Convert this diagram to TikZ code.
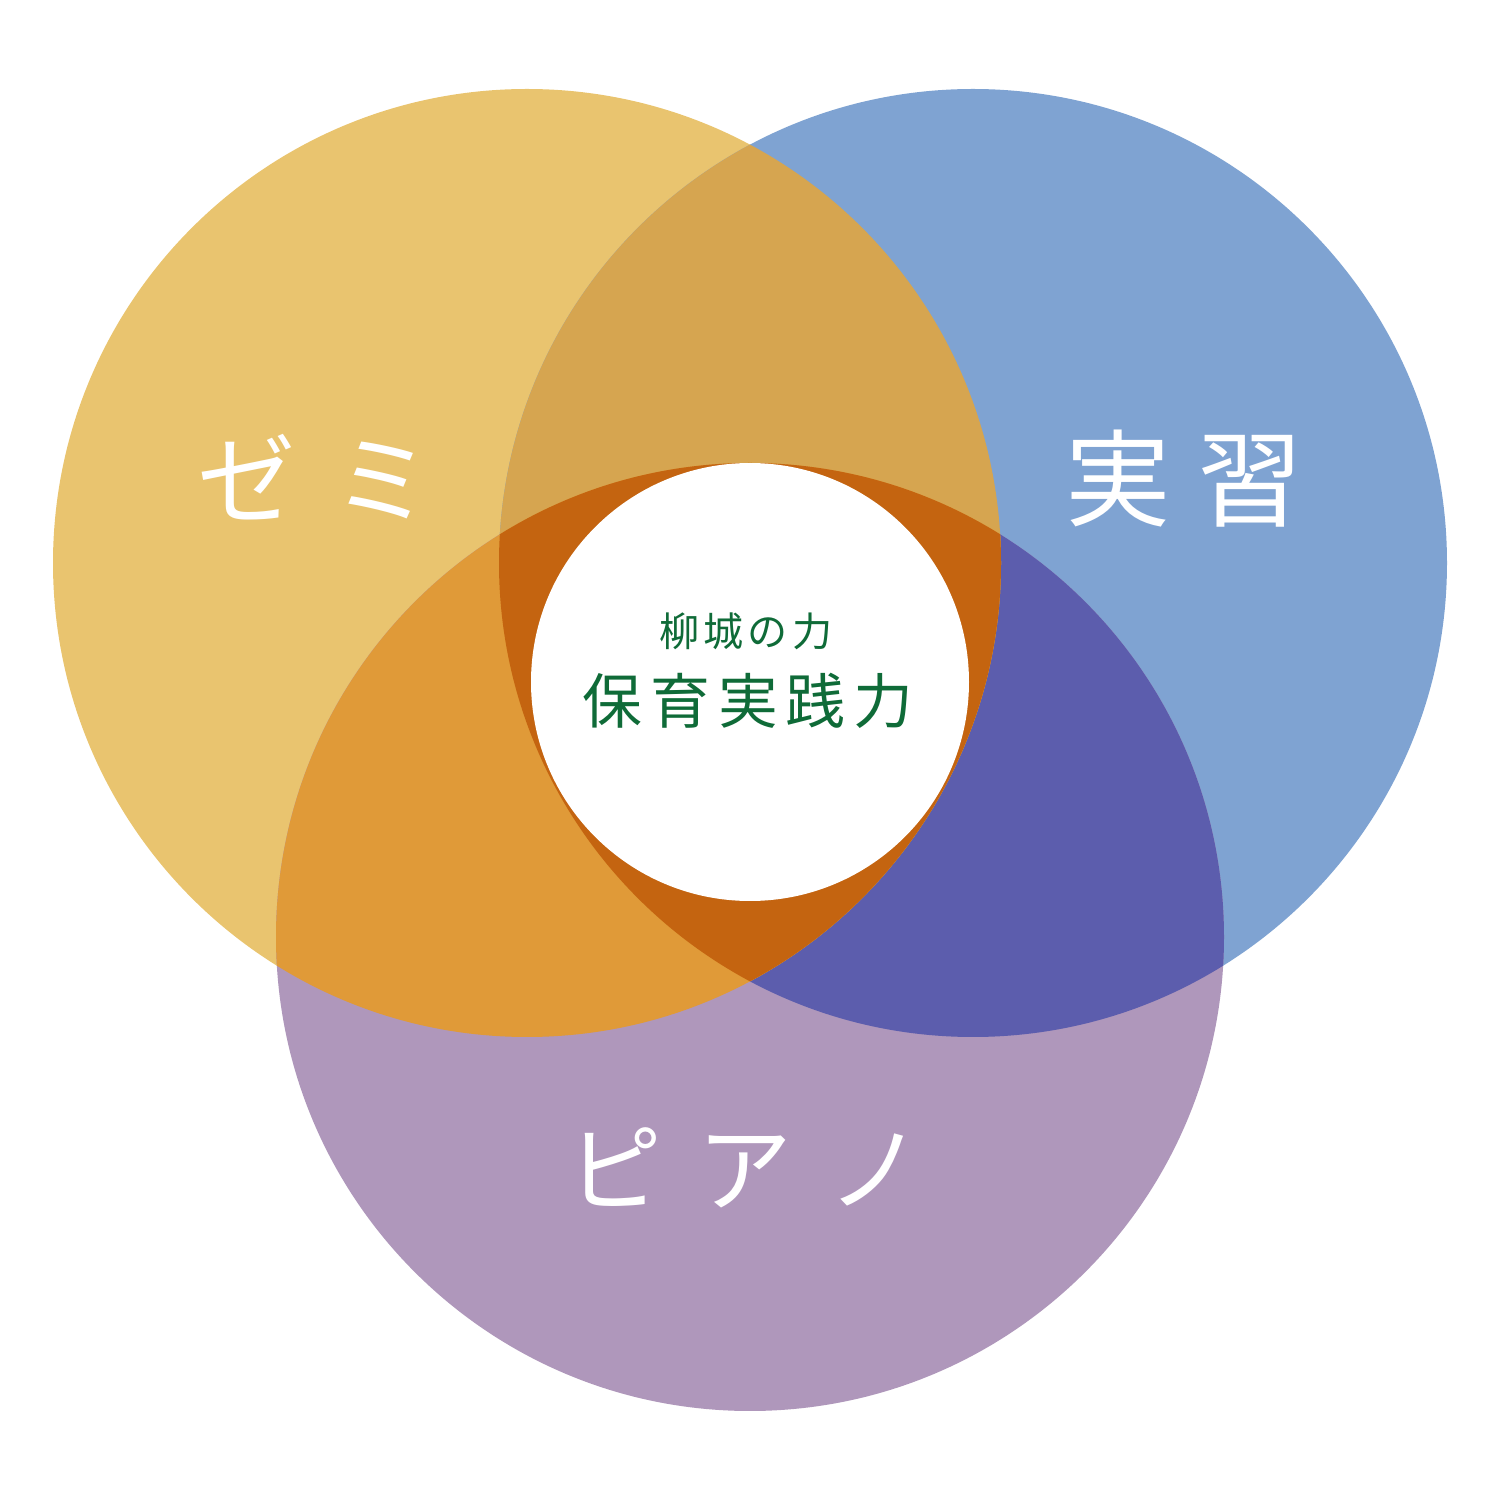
\documentclass[tikz,border=0pt]{standalone}
\usepackage{fontspec}
\newfontfamily\jpfont{Noto Sans CJK JP}
\definecolor{zemicol}{HTML}{E9C46F}
\definecolor{jisshucol}{HTML}{7FA3D2}
\definecolor{pianocol}{HTML}{AF97BB}
\definecolor{zjcol}{HTML}{D6A550}
\definecolor{zpcol}{HTML}{E09A38}
\definecolor{jpcol}{HTML}{5C5DAD}
\definecolor{allcol}{HTML}{C46410}
\definecolor{textgreen}{HTML}{0F6B38}

\tikzset{
  biglabel/.style={text=white, font=\jpfont, inner sep=0pt},
  corelabel/.style={text=textgreen, font=\jpfont, inner sep=0pt}
}
\def\rad{4.74}

\begin{document}
\begin{tikzpicture}
  \useasboundingbox (0,0) rectangle (15,15);
  \coordinate (zemi) at (5.27,9.37);
  \coordinate (jisshu) at (9.73,9.37);
  \coordinate (piano) at (7.5,5.63);
  \coordinate (core) at (7.5,8.18);
  % the three circles
  \fill[zemicol] (zemi) circle (\rad);
  \fill[jisshucol] (jisshu) circle (\rad);
  \fill[pianocol] (piano) circle (\rad);
  \begin{scope}
    \clip (jisshu) circle (\rad);
    \fill[jpcol] (piano) circle (\rad);
  \end{scope}
  \begin{scope}
    \clip (zemi) circle (\rad);
    \fill[zjcol] (jisshu) circle (\rad);
    \fill[zpcol] (piano) circle (\rad);
    \clip (jisshu) circle (\rad);
    \fill[allcol] (piano) circle (\rad);
  \end{scope}
  \fill[white] (core) circle (2.19);
  % labels
  \node[biglabel, font=\jpfont\fontsize{28pt}{28pt}\selectfont] (zemilabel) at (3.15,10.23) {ゼ\hspace{0.38cm}ミ};
  \node[biglabel, font=\jpfont\fontsize{30pt}{30pt}\selectfont] (jisshulabel) at (11.84,10.21) {実\hspace{0.27cm}習};
  \node[biglabel, font=\jpfont\fontsize{27pt}{27pt}\selectfont] (pianolabel) at (7.45,3.32) {ピ\hspace{0.35cm}ア\hspace{0.35cm}ノ};
  \node[corelabel, font=\jpfont\fontsize{11.4pt}{12pt}\selectfont] (yanagi) at (7.46,8.69) {柳\hspace{0.04cm}城\hspace{0.04cm}の\hspace{0.04cm}力};
  \node[corelabel, font=\jpfont\fontsize{17pt}{18pt}\selectfont] (hoiku) at (7.48,7.99) {保\hspace{0.08cm}育\hspace{0.08cm}実\hspace{0.08cm}践\hspace{0.08cm}力};
\end{tikzpicture}
\end{document}
